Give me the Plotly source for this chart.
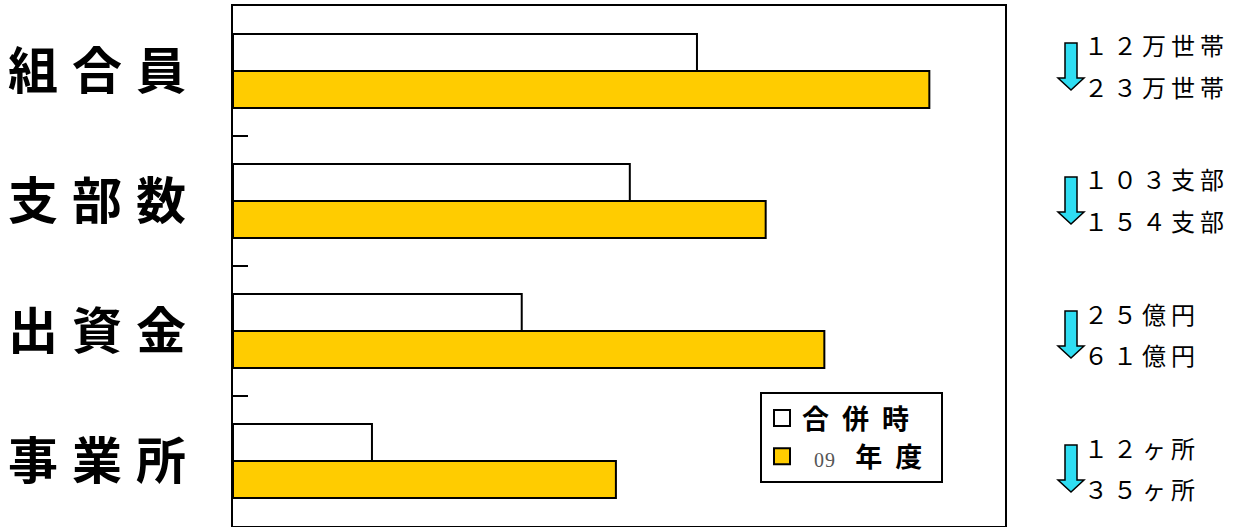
import plotly.graph_objects as go

# ---- data ----
categories = ["組合員", "支部数", "出資金", "事業所"]
series_names = ["合併時", "09 年度"]
merge_values = [60.1, 51.4, 37.4, 18.0]      # 合併時 (relative bar length)
fy09_values = [90.2, 69.0, 76.6, 49.6]       # 09年度 (relative bar length)
before_labels = ["１２万世帯", "１０３支部", "２５億円", "１２ヶ所"]
after_labels = ["２３万世帯", "１５４支部", "６１億円", "３５ヶ所"]

W, H = 1238, 527
L, R, T, B = 233, 1005, 6, 526
pw, ph = R - L, B - T

def px_x(x):
    return (x - L) / pw

def px_y(y):
    return 1 - (y - T) / ph

label_html = [f'<span style="letter-spacing:14px">{c}</span>' for c in categories]
legend_names = [
    f'<span style="letter-spacing:13px">{series_names[0]}</span>',
    '<span style="font-size:20px;font-weight:normal;font-family:Liberation Serif;color:#555;letter-spacing:1px">\u00a0\u00a009</span>'
    '<span style="letter-spacing:13px"> 年度</span>',
]
ORANGE = "#FFCC00"

fig = go.Figure()
fig.add_trace(go.Bar(
    y=categories, x=merge_values, orientation="h", name=series_names[0],
    marker=dict(color="white", line=dict(color="black", width=2)),
    showlegend=False,
))
fig.add_trace(go.Bar(
    y=categories, x=fy09_values, orientation="h", name=series_names[1],
    marker=dict(color=ORANGE, line=dict(color="black", width=2)),
    showlegend=False,
))
# legend entries (larger square swatches, as in the original)
for nm, col in zip(legend_names, ["white", ORANGE]):
    fig.add_trace(go.Scatter(
        x=[None], y=[None], mode="markers", name=nm,
        marker=dict(symbol="square", size=16, color=col, line=dict(color="black", width=2)),
        hoverinfo="skip",
    ))

fig.update_layout(
    width=W, height=H,
    margin=dict(l=L, r=W - R, t=T, b=H - B, pad=0),
    paper_bgcolor="white", plot_bgcolor="white",
    barmode="group", bargap=0.43, bargroupgap=0,
    font=dict(family="Noto Sans CJK JP", color="black"),
    showlegend=True,
    legend=dict(
        x=px_x(760), y=px_y(392), xanchor="left", yanchor="top",
        bgcolor="white", bordercolor="black", borderwidth=2,
        font=dict(size=27, family="Noto Sans CJK JP", weight="bold", color="black"),
        traceorder="normal", itemclick=False, tracegroupgap=0, itemwidth=30,
    ),
)
fig.update_xaxes(
    range=[0, 100], showgrid=False, zeroline=False, showticklabels=False, ticks="",
    showline=True, linecolor="black", linewidth=2, mirror=True, automargin=False,
)
fig.update_yaxes(
    autorange="reversed", showgrid=False, zeroline=False, automargin=False,
    tickmode="array", tickvals=categories, ticktext=label_html,
    tickson="boundaries", ticks="inside", ticklen=15, tickwidth=2, tickcolor="black",
    ticklabelstandoff=21,
    tickfont=dict(size=50, family="Noto Sans CJK JP", weight="bold", color="black"),
    showline=True, linecolor="black", linewidth=2, mirror=True,
)

# right-side annotations with cyan down arrows
group_centers_px = [66, 200, 334, 468]
arrow_path = "M -6,23 L 6,23 L 6,-12 L 13,-12 L 0,-24 L -13,-12 L -6,-12 Z"
rfont = dict(size=24, family="Noto Sans CJK JP", color="black")
for cy, a, b in zip(group_centers_px, before_labels, after_labels):
    fig.add_shape(
        type="path", path=arrow_path,
        xref="paper", yref="paper", xsizemode="pixel", ysizemode="pixel",
        xanchor=px_x(1071), yanchor=px_y(cy),
        fillcolor="#2FDDF2", line=dict(color="black", width=1.5), layer="above",
    )
    fig.add_annotation(
        text=f'<span style="letter-spacing:5px">{a}</span>', xref="paper", yref="paper",
        x=px_x(1082), y=px_y(cy - 21),
        xanchor="left", yanchor="middle", showarrow=False, font=rfont,
    )
    fig.add_annotation(
        text=f'<span style="letter-spacing:5px">{b}</span>', xref="paper", yref="paper",
        x=px_x(1082), y=px_y(cy + 20),
        xanchor="left", yanchor="middle", showarrow=False, font=rfont,
    )

fig.write_html(
    "out.html",
    config={"displayModeBar": False},
    post_script="document.body.style.margin='0';",
)
